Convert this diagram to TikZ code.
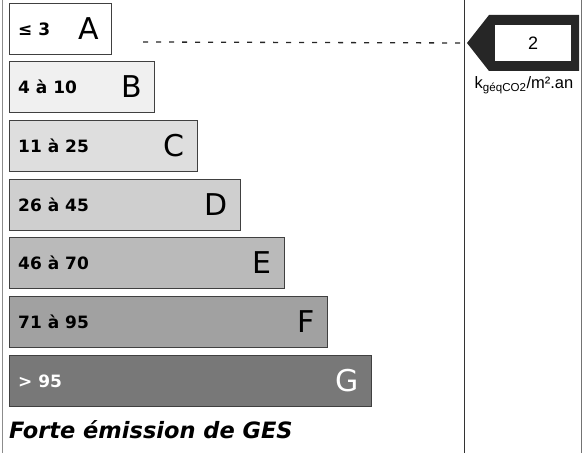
\documentclass[tikz,border=0pt]{standalone}
\usepackage{fontspec}
\setmainfont{DejaVu Sans}
\newfontfamily\arialfont{Liberation Sans}
\usepackage{tikz}
\usetikzlibrary{positioning}
\definecolor{gesA}{gray}{1}
\definecolor{gesB}{gray}{0.94}
\definecolor{gesC}{gray}{0.87}
\definecolor{gesD}{gray}{0.81}
\definecolor{gesE}{gray}{0.73}
\definecolor{gesF}{gray}{0.63}
\definecolor{gesG}{gray}{0.47}

\begin{document}
\begin{tikzpicture}[
x = 1bp, y = -1bp,
gesbar/.style={rectangle, draw = black!75, line width = 0.8bp, anchor = north west,
minimum height = 51bp, inner sep = 0pt},
rangetxt/.style={anchor = west, inner sep = 0pt, font = \fontsize{17bp}{20bp}\selectfont\bfseries},
lettertxt/.style={anchor = east, inner sep = 0pt, font = \fontsize{30bp}{36bp}\selectfont},
sepline/.style={line width = 1bp, draw = black!80}]

\useasboundingbox (0,0) rectangle (588,453);

% cadre
\draw[sepline, draw = black!45] (2,0) -- (2,453);
\draw[sepline] (464,0) -- (464,453);
\draw[sepline, draw = black!55] (581,0) -- (581,453);

% barres
\node[gesbar, fill = gesA, minimum width = 102bp] (A) at (9,3) {};
\node[gesbar, fill = gesB, minimum width = 145bp] (B) at (9,61) {};
\node[gesbar, fill = gesC, minimum width = 188bp] (C) at (9,120) {};
\node[gesbar, fill = gesD, minimum width = 231bp] (D) at (9,179) {};
\node[gesbar, fill = gesE, minimum width = 275bp] (E) at (9,237) {};
\node[gesbar, fill = gesF, minimum width = 318bp] (F) at (9,296) {};
\node[gesbar, fill = gesG, minimum width = 362bp] (G) at (9,355) {};

\node[rangetxt] (rA) at ([xshift=9bp]A.west) {≤ 3};
\node[rangetxt] (rB) at ([xshift=9bp]B.west) {4 à 10};
\node[rangetxt] (rC) at ([xshift=9bp]C.west) {11 à 25};
\node[rangetxt] (rD) at ([xshift=9bp]D.west) {26 à 45};
\node[rangetxt] (rE) at ([xshift=9bp]E.west) {46 à 70};
\node[rangetxt] (rF) at ([xshift=9bp]F.west) {71 à 95};
\node[rangetxt, text = white] (rG) at ([xshift=9bp]G.west) {> 95};

\node[lettertxt] (lA) at ([xshift=-13bp]A.east) {A};
\node[lettertxt] (lB) at ([xshift=-13bp]B.east) {B};
\node[lettertxt] (lC) at ([xshift=-13bp]C.east) {C};
\node[lettertxt] (lD) at ([xshift=-13bp]D.east) {D};
\node[lettertxt] (lE) at ([xshift=-13bp]E.east) {E};
\node[lettertxt] (lF) at ([xshift=-13bp]F.east) {F};
\node[lettertxt, text = white] (lG) at ([xshift=-13bp]G.east) {G};

\node[anchor = base west, inner sep = 0pt, font = \fontsize{22.5bp}{26bp}\selectfont\bfseries\itshape] (titre) at (9,438) {Forte émission de GES};

% indicateur
\coordinate (tip) at (467,43);
\coordinate (dstart) at (143,42);
\fill[black!85] (tip) -- (489,15) -- (579,15) -- (579,71) -- (489,71) -- cycle;
\node[rectangle, fill = white, minimum width = 76bp, minimum height = 36bp, inner sep = 0pt,
font = \arialfont\fontsize{18bp}{21bp}\selectfont] (val) at (533,43) {2};
\draw[dashed, dash pattern = on 5bp off 8bp, line width = 1.3bp, draw = black!85] (dstart) -- (tip);
\node[inner sep = 0pt, font = \arialfont\fontsize{16.5bp}{19bp}\selectfont] (unit) at (524,85)
{k\textsubscript{géqCO2}/m².an};

\end{tikzpicture}
\end{document}
